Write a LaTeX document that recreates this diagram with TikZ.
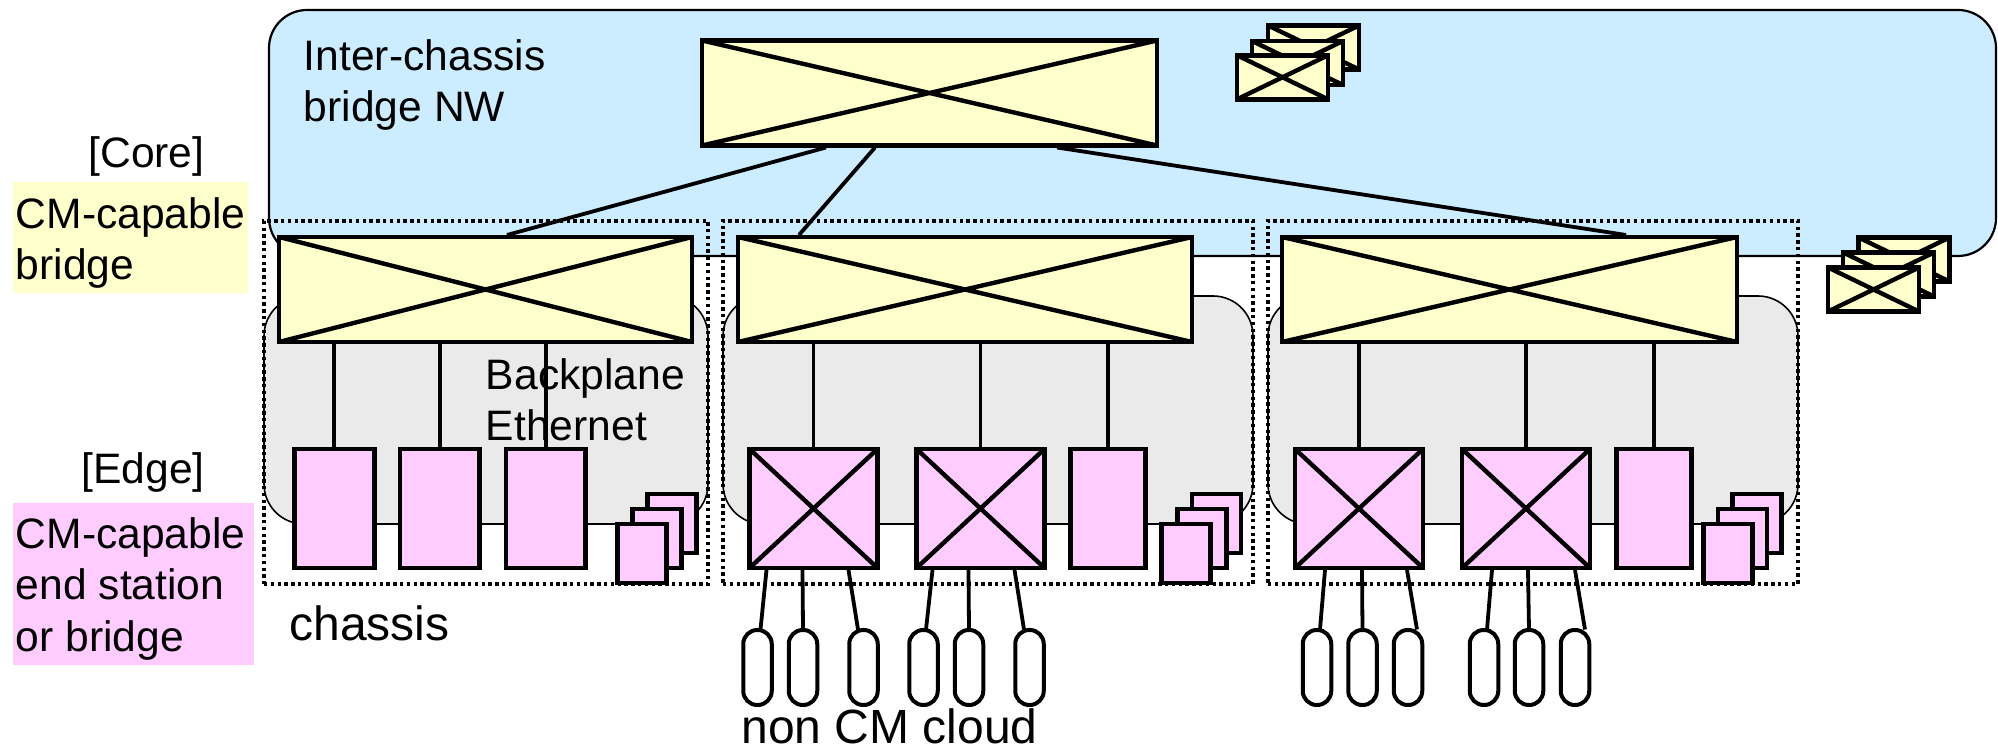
\documentclass[tikz,border=0pt]{standalone}
\usepackage{fontspec}
\setmainfont{Liberation Sans}
\usepackage{xcolor}
\usetikzlibrary{calc}
\definecolor{netblue}{HTML}{CCECFF}
\definecolor{coreyellow}{HTML}{FFFFCC}
\definecolor{edgepink}{HTML}{FFCCFF}
\definecolor{backgray}{HTML}{EAEAEA}
\tikzset{
    crossed/.style={path picture={
        \draw[line width=2.2pt] (path picture bounding box.north west) -- (path picture bounding box.south east)
            (path picture bounding box.north east) -- (path picture bounding box.south west);}},
    flatbox/.style={draw, line width=2.4pt, rectangle, inner sep=0pt, outer sep=0pt},
    corebox/.style={flatbox, fill=coreyellow, crossed, minimum height=52.5pt, minimum width=#1},
    stackcore/.style={flatbox, fill=coreyellow, crossed, minimum width=45.5pt, minimum height=22pt},
    edgebox/.style={flatbox, fill=edgepink, minimum height=59.5pt, minimum width=#1},
    edgecross/.style={edgebox=64pt, crossed},
    stackedge/.style={flatbox, fill=edgepink, minimum width=24.5pt, minimum height=29.5pt},
    cloudbox/.style={draw, line width=2pt, fill=white, rounded corners=7pt, inner sep=0pt,
        minimum width=14.25pt, minimum height=37.5pt},
    backbox/.style={draw, line width=0.8pt, fill=backgray, rounded corners=20pt, inner sep=0pt,
        minimum height=114pt, minimum width=#1},
    chassisbox/.style={draw, line width=2pt, dash pattern=on 1.7pt off 1.7pt, inner sep=0pt,
        minimum height=181.6pt, minimum width=#1},
    link/.style={line width=1.9pt},
    lbl/.style={inner sep=0pt, align=left, font=\fontsize{21.3}{25.8}\selectfont},
    biglbl/.style={inner sep=0pt, font=\fontsize{24}{28}\selectfont},
}

\begin{document}
\begin{tikzpicture}[x=0.5pt,y=-0.5pt]
    \useasboundingbox (0,0) rectangle (1998,747);

    % 1. Inter-chassis network behind everything
    \node[draw, line width=1.1pt, fill=netblue, rounded corners=19pt, inner sep=0pt,
        minimum width=863.5pt, minimum height=123pt] (net) at (1132.5,133) {};

    % 2. Legend on the left
    \node[fill=coreyellow, inner sep=0pt, minimum width=117.5pt, minimum height=55.5pt] (coreleg) at (130,237.5) {};
    \node[fill=edgepink, inner sep=0pt, minimum width=120.5pt, minimum height=81pt] (edgeleg) at (133,584) {};
    \node[lbl, anchor=base] (coretag) at (146.5,167.5) {[Core]};
    \node[lbl, anchor=north west] (coretxt) at (15.5,197) {CM-capable\\bridge};
    \node[lbl, anchor=base] (edgetag) at (143,484) {[Edge]};
    \node[lbl, anchor=north west] (edgetxt) at (15.5,517) {CM-capable\\end station\\or bridge};

    % 3. Backplane areas and dotted chassis frames
    \foreach \nm/\x/\w in {A/486/222pt, B/988/265pt, C/1533/265pt} {
        \node[backbox=\w] (back\nm) at (\x,410) {};
    }
    \foreach \nm/\x/\w in {A/486/222pt, B/988/265pt, C/1533/265pt} {
        \node[chassisbox=\w] (chassis\nm) at (\x,402.4) {};
    }

    % 4. Core bridges
    \node[corebox=227.5pt] (top) at (929.5,93) {};
    \node[corebox=206.5pt] (coreA) at (485.5,289.5) {};
    \node[corebox=227pt] (coreB) at (965,289.5) {};
    \node[corebox=227.5pt] (coreC) at (1509.5,289.5) {};

    % 5. Stacks of small core bridges
    \foreach \nm/\x/\y in {s3/1313.5/47.5, s2/1297.5/63, s1/1282.5/77.3, r3/1904/259.5, r2/1888.5/274.5, r1/1873.5/289.5} {
        \node[stackcore] (\nm) at (\x,\y) {};
    }

    % 6. Edge devices
    \foreach \nm/\x/\w in {A1/334.3/39.8pt, A2/439.7/39.8pt, A3/545.8/39.8pt, B3/1108/37.5pt, C3/1653.8/37.5pt} {
        \node[edgebox=\w] (edge\nm) at (\x,508.5) {};
    }
    \foreach \nm/\x in {B1/813.5, B2/980.5, C1/1359, C2/1526} {
        \node[edgecross] (edge\nm) at (\x,508.5) {};
    }
    \foreach \nm/\x/\y in {a3/672/523.5, a2/657/538.5, a1/642/553.5,
                           b3/1216.5/523.5, b2/1202/538.5, b1/1186/553.5,
                           c3/1757/523.5, c2/1742.5/538.5, c1/1728/553.5} {
        \node[stackedge] (\nm) at (\x,\y) {};
    }

    % 7. Non CM cloud members
    \foreach \nm/\x in {B11/757.5, B12/803, B13/863.5, B21/923.5, B22/969, B23/1029.5,
                        C11/1317, C12/1362.5, C13/1408, C21/1484, C22/1529, C23/1575} {
        \node[cloudbox] (cloud\nm) at (\x,667.5) {};
    }

    % 8. Links between core bridges
    \draw[link] ($(top.south west)+(124,2)$) -- ($(coreA.north west)+(228,-2)$);
    \draw[link] ($(top.south west)+(173,2)$) -- ($(coreB.north west)+(61,-2)$);
    \draw[link] ($(top.south west)+(355,2)$) -- ($(coreC.north west)+(344,-2)$);

    % 9. Links from core bridge to edge device
    \foreach \c/\e in {coreA/edgeA1, coreA/edgeA2, coreA/edgeA3,
                       coreB/edgeB1, coreB/edgeB2, coreB/edgeB3,
                       coreC/edgeC1, coreC/edgeC2, coreC/edgeC3} {
        \draw[link] (\e.north |- \c.south) -- (\e.north);
    }

    % 10. Links from edge bridge to cloud member
    \foreach \e/\dx/\m/\ex in {B1/17/B11/3, B1/53/B12/0, B1/99/B13/-5.5,
                               B2/16/B21/2.5, B2/52/B22/0, B2/98/B23/-5.5,
                               C1/30/C11/3, C1/67/C12/0, C1/112/C13/9,
                               C2/30/C21/3, C2/66/C22/0, C2/113/C23/10} {
        \draw[link] ($(edge\e.south west)+(\dx,2)$) -- ($(cloud\m.north)+(\ex,1.5)$);
    }

    % 11. Labels
    \node[lbl, anchor=north west] (nettxt) at (303.5,39) {Inter-chassis\\bridge NW};
    \node[lbl, anchor=north west] (backtxt) at (485.5,358) {Backplane\\Ethernet};
    \node[biglbl, anchor=base west] (chassistxt) at (289,641) {chassis};
    \node[biglbl, anchor=base west] (cloudtxt) at (741,744) {non CM cloud};

\end{tikzpicture}
\end{document}
